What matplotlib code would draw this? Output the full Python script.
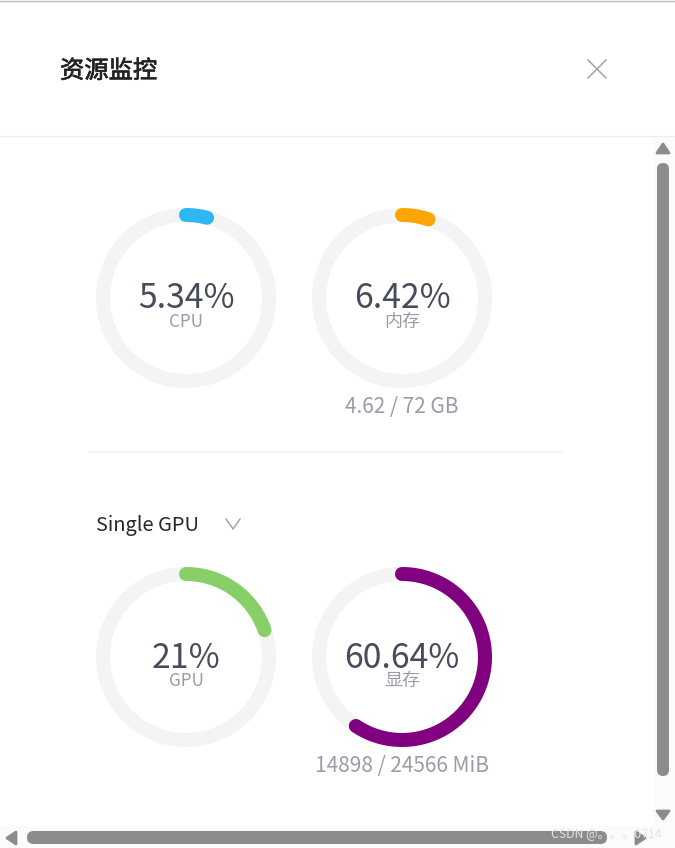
import numpy as np
import matplotlib
matplotlib.use('Agg')
import matplotlib.pyplot as plt
import matplotlib.patheffects as pe
from matplotlib.patches import FancyBboxPatch, Polygon, Rectangle

plt.rcParams['font.family'] = ['Noto Sans CJK SC', 'DejaVu Sans']

W, H = 675, 848

percents = [5.34, 6.42, 21, 60.64]
percent_labels = ['5.34%', '6.42%', '21%', '60.64%']
gauge_names = ['CPU', '内存', 'GPU', '显存']
name_sizes = [12.3, 13, 12.3, 13]
gauge_colors = ['#2db7f5', '#ffa500', '#87d068', '#800080']
centers = [(186, 298), (402, 298), (186, 657), (402, 657)]
footers = ['', '4.62 / 72 GB', '', '14898 / 24566 MiB']

RING_R = 83
RING_W = 14 * 72 / 100  # 14 px
TRIM_DEG = 4.5  # the round cap eats a bit of the arc


def draw_gauge(ax, cx, cy, pct, label, name, name_size, color, footer):
    t = np.linspace(0, 2 * np.pi, 361)
    ax.plot(cx + RING_R * np.sin(t), cy - RING_R * np.cos(t), color='#f4f4f4', lw=RING_W)
    end = np.radians(pct * 3.6 - TRIM_DEG)
    t = np.linspace(0, end, 200)
    ax.plot(cx + RING_R * np.sin(t), cy - RING_R * np.cos(t), color=color, lw=RING_W,
            solid_capstyle='round')
    ax.text(cx, cy + 1, label, color='#484b5b', fontsize=24.3, ha='center', va='center')
    ax.text(cx, cy + 24, name, color='#9a9ca9', fontsize=name_size, ha='center', va='center')
    if footer:
        ax.text(cx, cy + 109, footer, color='#9a9ca9', fontsize=15, ha='center', va='center')


def pill(ax, x0, y0, x1, y1, color='#8c8c8c'):
    r = min(x1 - x0, y1 - y0) / 2
    ax.add_patch(FancyBboxPatch((x0 + r, y0 + r), x1 - x0 - 2 * r, y1 - y0 - 2 * r,
                                boxstyle=f'round,pad={r}', fc=color, ec='none'))


def arrow(ax, pts):
    ax.add_patch(Polygon(pts, fc='#8c8c8c', ec='#8c8c8c', lw=2, joinstyle='round'))


fig = plt.figure(figsize=(W / 100, H / 100), dpi=100, facecolor='white')
ax = fig.add_axes([0, 0, 1, 1])
ax.set_xlim(0, W)
ax.set_ylim(H, 0)
ax.axis('off')

# header
ax.plot([0, W], [0.5, 0.5], color='#bdbdbd', lw=1)
title = ax.text(60, 71, '资源监控', color='#222222', fontsize=17.5, ha='left', va='center')
title.set_path_effects([pe.withStroke(linewidth=0.5, foreground='#222222')])
ax.plot([588, 606], [60, 78], color='#9a9ca9', lw=1)
ax.plot([606, 588], [60, 78], color='#9a9ca9', lw=1)
ax.plot([0, W], [135.5, 135.5], color='#eeeeee', lw=1)

# gauges
for i in range(len(percents)):
    draw_gauge(ax, centers[i][0], centers[i][1], percents[i], percent_labels[i],
               gauge_names[i], name_sizes[i], gauge_colors[i], footers[i])

# divider and dropdown
ax.plot([90, 562], [452, 452], color='#f2f2f2', lw=1.2)
ax.text(95.5, 526, 'Single GPU', color='#26262c', fontsize=14.4, ha='left', va='center')
ax.plot([226, 233, 240], [519, 529, 519], color='#9a9ca9', lw=1)

# scrollbars
ax.add_patch(Rectangle((653, 136), 22, 690, fc='#fbfbfb', ec='none'))
ax.add_patch(Rectangle((0, 826), W, 22, fc='#fbfbfb', ec='none'))
pill(ax, 657, 163, 669, 776)
pill(ax, 27, 831, 607, 844)
arrow(ax, [[663, 144], [657, 153], [669, 153]])
arrow(ax, [[657, 811], [669, 811], [663, 819]])
arrow(ax, [[7, 838], [16, 832], [16, 844]])
arrow(ax, [[645, 838], [636, 832], [636, 844]])

# watermark
ax.text(551, 834, 'CSDN @。。。0714', color='#e4e4e4', fontsize=8.8, ha='left', va='center')

fig.savefig('out.png', dpi=100)
